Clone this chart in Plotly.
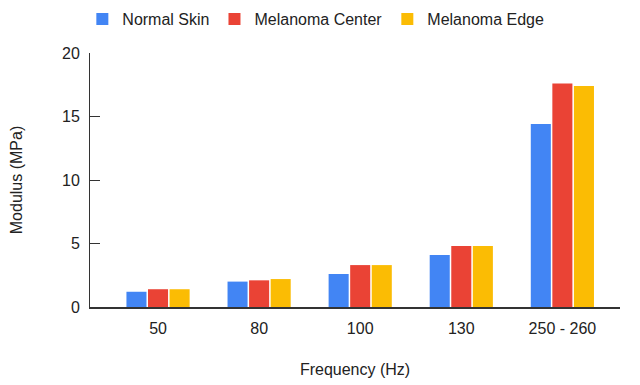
import plotly.graph_objects as go

categories = ["50", "80", "100", "130", "250 - 260"]
normal_skin = [1.2, 2.0, 2.6, 4.1, 14.4]
melanoma_center = [1.4, 2.1, 3.3, 4.8, 17.6]
melanoma_edge = [1.4, 2.2, 3.3, 4.8, 17.4]
series_names = ["Normal Skin", "Melanoma Center", "Melanoma Edge"]
colors = ["#4285F4", "#EA4335", "#FBBC04"]
y_ticks = [0, 5, 10, 15, 20]

fig = go.Figure()
for name, vals, c in zip(series_names, [normal_skin, melanoma_center, melanoma_edge], colors):
    fig.add_trace(go.Bar(x=categories, y=vals, name=name, marker_color=c, marker_line_width=0))

FONT = "Liberation Sans, Arial, sans-serif"
TXT = "#222222"
fig.update_layout(
    width=640, height=385,
    margin=dict(l=82, r=28, t=45, b=86, autoexpand=False),
    plot_bgcolor="white", paper_bgcolor="white",
    font=dict(family=FONT, size=16, color=TXT),
    barmode="group", bargap=0.36, bargroupgap=0.07,
    legend=dict(orientation="h", x=0.481, xref="container", xanchor="center", y=0.971, yref="container", yanchor="middle",
                font=dict(size=16, color=TXT), itemwidth=30, traceorder="normal"),
    showlegend=True,
)
fig.update_xaxes(
    type="category", range=[-0.673, 4.57], automargin=False,
    showline=True, linecolor="#333333", linewidth=1.5,
    ticks="", tickfont=dict(size=16, color=TXT), ticklabelstandoff=6,
    title=dict(text="Frequency (Hz)", font=dict(size=16, color=TXT), standoff=28),
)
fig.update_yaxes(
    range=[0, 20], tickvals=y_ticks, automargin=False,
    showline=True, linecolor="#333333", linewidth=1,
    showgrid=False, zeroline=False,
    ticks="inside", ticklen=10, tickcolor="#333333",
    tickfont=dict(size=16, color=TXT), ticklabelstandoff=6,
    title=dict(text="Modulus (MPa)", font=dict(size=16, color=TXT), standoff=36),
)
fig.write_html("out.html")
